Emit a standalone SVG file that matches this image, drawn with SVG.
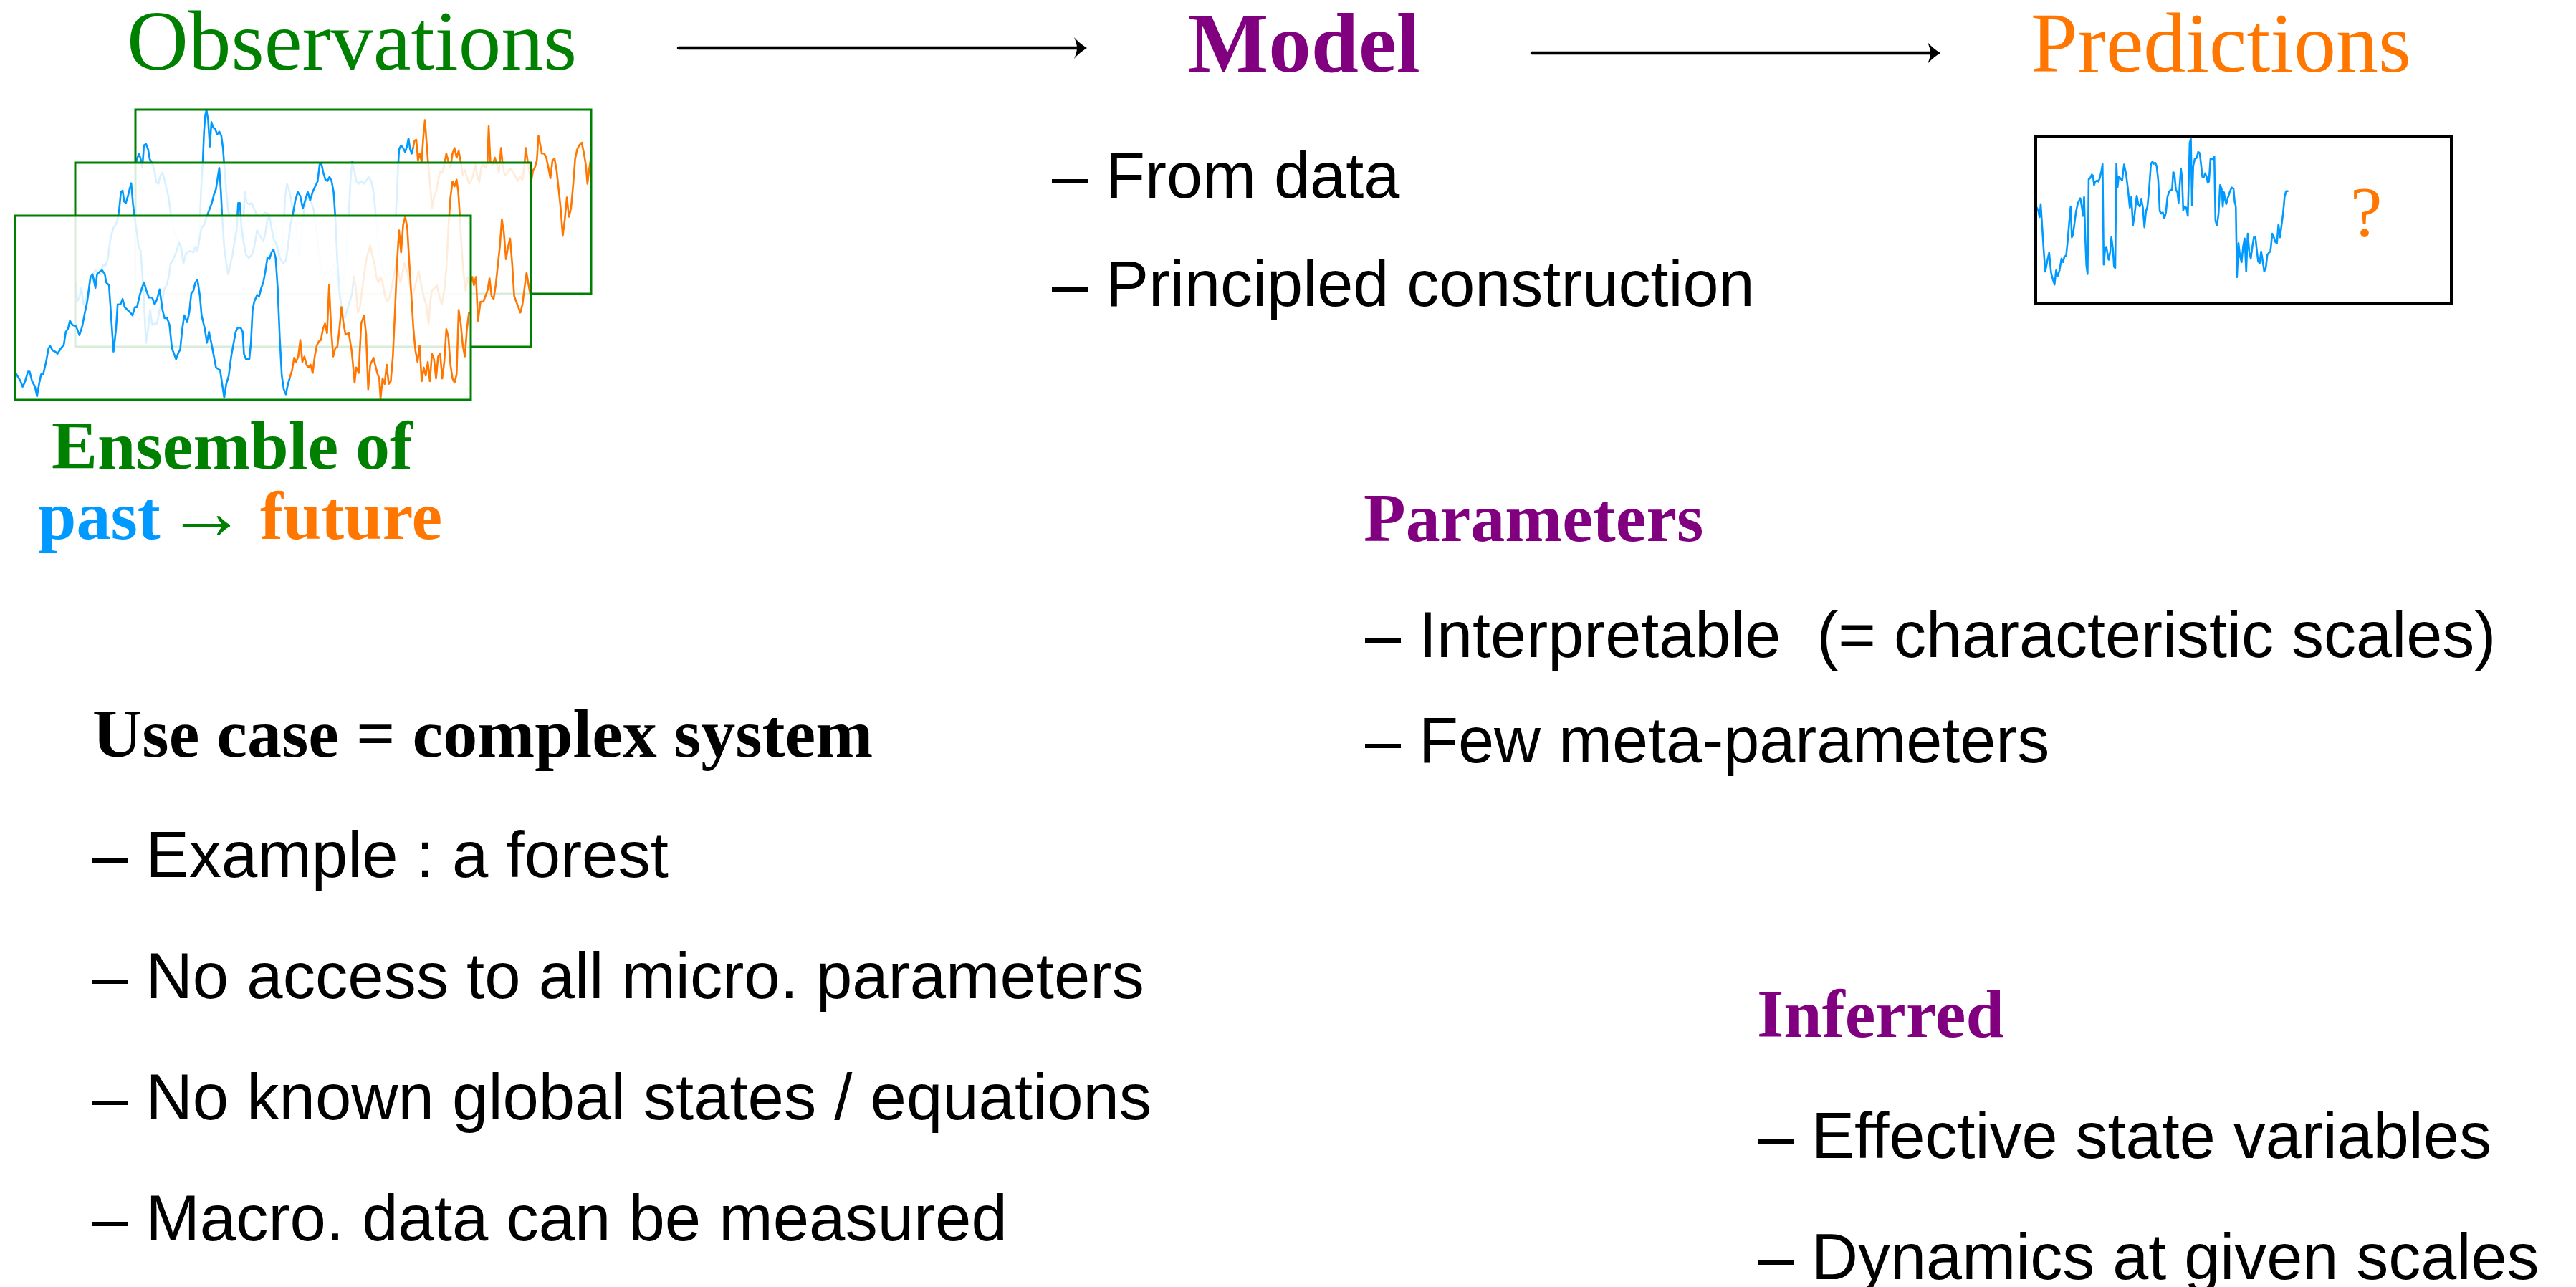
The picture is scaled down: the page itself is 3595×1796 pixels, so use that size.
<svg xmlns="http://www.w3.org/2000/svg" width="3595" height="1796" viewBox="0 0 3595 1796">
  <style>
    .serif { font-family: "Liberation Serif", "Times New Roman", serif; }
    .bold { font-weight: bold; }
    .sans { font-family: "Liberation Sans", Arial, Helvetica, sans-serif; fill: #000; }
    .green { fill: #008000; }
    .purple { fill: #800080; }
    .orangeT { fill: #ff7700; }
    .blueT { fill: #0099ff; }
    .ser { fill: none; stroke-width: 2.6; stroke-linejoin: round; stroke-linecap: round; }
    .b { stroke: #0099ff; }
    .o { stroke: #ff7700; }
    .frame { fill: none; stroke: #008000; stroke-width: 3; }
    .veil { fill: #ffffff; fill-opacity: 0.85; stroke: none; }
    .conn { fill: none; stroke: #000; stroke-width: 4.5; stroke-linecap: round; }
  </style>
  <defs>
    <marker id="head" markerUnits="userSpaceOnUse" viewBox="0 -16 38 32" refX="30" refY="0" markerWidth="38" markerHeight="32" orient="auto">
      <path d="M36,0 Q26,-6 18,-15 Q22,-6 22,0 Q22,6 18,15 Q26,6 36,0 Z" fill="#000"/>
    </marker>
  </defs>

  <rect width="3595" height="1796" fill="#ffffff"/>

  <!-- Observations: title, stacked ensemble of series, caption -->
  <g id="observations">
    <text class="serif green" x="177" y="97" font-size="119">Observations</text>

    <!-- back panel -->
    <g id="obs-panel-back">
      <g transform="scale(0.5741,0.3827)">
        <polyline class="ser b" vector-effect="non-scaling-stroke" points="331,590 334,575 338,560 342,580 346,610 350,530 355,525 360,545 364,580 370,595 375,620 380,665 385,670 390,640 395,630 400,655 405,690 410,720 415,780 420,820 425,850 432,880 438,890 444,960 450,920 456,905 462,900 468,905 474,900 480,890 484,870 487,760 490,660 493,590 496,480 499,420 502,400 506,440 510,535 514,445 518,465 523,470 528,490 533,480 538,495 542,540 546,620 550,700 555,770 560,800 565,830 570,850 575,870 580,760 585,870 590,870 595,700 600,740 606,745 612,740 620,770 628,795 636,790 644,775 652,780 660,800 668,820 676,900 682,930 688,880 693,720 698,670 704,700 710,750 716,800 722,860 727,930 732,880 738,780 744,720 750,725 756,735 762,760 768,830 774,900 780,980 786,1000 792,990 798,1000 805,980 812,960 818,1000 824,1060 830,1100 836,1020 842,920 848,780 852,660 856,590 861,620 866,660 872,670 878,660 884,670 890,660 896,645 902,660 907,690 912,760 917,850 922,920 928,970 934,1000 940,1010 946,995 952,990 958,920 962,800 966,660 970,545 975,530 980,540 985,555 990,530 993,505 997,545 1001,560 1004,540"/>
        <polyline class="ser o" vector-effect="non-scaling-stroke" points="1004,540 1008,512 1012,510 1016,585 1020,560 1025,590 1029,500 1033,438 1037,520 1041,600 1046,680 1050,760 1055,720 1060,700 1065,660 1070,625 1075,630 1080,600 1085,560 1090,590 1095,610 1100,560 1105,540 1110,575 1115,550 1120,590 1125,640 1130,620 1135,645 1140,670 1145,660 1150,640 1155,600 1160,640 1165,665 1170,610 1175,600 1180,612 1185,590 1188,460 1192,590 1198,600 1203,575 1208,600 1213,630 1218,540 1222,600 1227,640 1233,630 1240,615 1246,625 1252,640 1258,660 1264,645 1270,655 1275,600 1278,540 1283,590 1288,635 1292,655 1296,620 1300,612 1305,585 1309,495 1313,525 1317,560 1323,560 1328,575 1333,610 1338,650 1343,585 1348,578 1353,620 1358,690 1363,760 1368,860 1373,800 1378,720 1383,790 1388,760 1393,680 1398,580 1403,545 1408,530 1414,520 1419,555 1424,600 1428,670 1432,620 1436,580"/>
      </g>
      <rect class="frame" x="189" y="153" width="636" height="257"/>
    </g>

    <!-- middle panel -->
    <g id="obs-panel-middle">
      <rect class="veil" x="105" y="227" width="636" height="257"/>
      <g transform="scale(0.5741,0.3827)">
        <polyline class="ser b" vector-effect="non-scaling-stroke" points="184,1030 188,1100 193,1085 198,1050 203,1110 208,1095 214,1070 220,1020 226,1000 232,985 238,995 244,1000 250,965 256,970 262,945 267,885 272,850 276,830 281,820 286,800 290,760 294,700 298,695 302,735 306,740 311,715 315,690 319,668 323,740 327,790 332,840 337,900 342,915 346,1000 350,1100 355,1250 360,1200 365,1130 370,1185 376,1180 382,1180 388,1130 394,1100 400,1050 405,1040 410,1010 415,960 420,950 428,920 435,885 440,900 446,960 451,930 456,920 462,915 470,920 475,900 480,915 485,870 490,830 496,820 500,800 505,780 510,760 515,740 520,710 525,690 530,640 533,612 537,700 540,790 545,900 550,960 555,1000 560,965 565,930 570,880 575,840 579,740 583,740 587,830 592,880 598,930 605,940 612,930 618,900 625,840 632,860 640,880 645,850 650,800 655,790 660,830 665,870 672,890 680,940 688,960 695,950 700,900 706,820 712,780 718,730 724,700 730,715 736,760 742,730 748,700 754,730 760,700 766,680 772,662 777,600 781,595 786,630 791,655 796,660 801,645 806,660 811,700 815,790 820,950 826,1080 832,1140 838,1160 844,1130 850,1100 856,1070 860,1010"/>
        <polyline class="ser o" vector-effect="non-scaling-stroke" points="860,1010 865,1050 870,1140 875,1120 880,1060 885,1000 890,950 895,920 900,895 905,930 910,960 915,1010 920,1030 925,1010 930,1030 936,1080 942,1100 948,1080 953,1040 958,1000 963,960 968,990 973,1030 978,1000 983,960 990,990 996,1040 1002,1080 1008,1050 1013,1020 1018,990 1024,1040 1030,1080 1036,1110 1042,1180 1046,1100 1050,1060 1056,1050 1062,1040 1068,1080 1074,1110 1080,1060 1085,980 1090,830 1095,720 1100,662 1105,680 1110,655 1114,700 1118,790 1122,900 1127,1000 1132,1060 1137,1010 1142,1040 1148,1010 1152,1040 1157,1010 1162,1170 1168,1100 1175,1100 1180,1080 1185,1060 1190,1015 1195,1080 1200,1090 1205,1040 1210,970 1215,900 1220,800 1225,850 1230,945 1235,900 1240,870 1245,960 1250,1080 1255,1100 1260,1120 1265,1140 1270,1110 1275,1050 1280,995 1285,1040 1290,1080"/>
      </g>
      <rect class="frame" x="105" y="227" width="636" height="257"/>
    </g>

    <!-- front panel -->
    <g id="obs-panel-front">
      <rect class="veil" x="21" y="301" width="636" height="257"/>
      <g transform="scale(0.5741,0.3827)">
        <polyline class="ser b" vector-effect="non-scaling-stroke" points="38,1360 50,1390 55,1410 60,1395 68,1355 72,1355 78,1390 85,1410 90,1445 95,1400 100,1365 105,1365 112,1320 118,1270 122,1262 128,1278 135,1283 140,1290 148,1270 155,1258 160,1210 165,1200 170,1170 176,1185 185,1190 193,1222 200,1190 205,1150 212,1100 220,1010 225,1000 232,1050 236,1000 243,990 248,985 255,1000 258,1030 265,1040 270,1150 276,1282 282,1200 286,1110 293,1110 298,1090 303,1120 310,1130 317,1140 322,1150 328,1120 333,1120 340,1075 345,1050 350,1030 356,1060 362,1085 370,1085 376,1110 382,1090 388,1055 395,1130 400,1160 406,1160 412,1185 418,1270 428,1310 434,1285 438,1275 443,1200 448,1150 455,1175 460,1140 465,1070 470,1060 475,1030 480,1020 486,1080 490,1150 498,1200 503,1250 508,1210 515,1260 520,1300 525,1340 530,1345 535,1350 540,1400 545,1450 550,1400 556,1370 562,1300 568,1250 573,1210 578,1195 585,1195 590,1210 593,1290 598,1310 606,1310 610,1250 614,1130 618,1100 625,1075 630,1080 635,1050 640,1030 645,990 650,940 655,945 660,920 665,910 670,940 675,1050 680,1230 685,1370 690,1420 695,1438 700,1400 705,1375"/>
        <polyline class="ser o" vector-effect="non-scaling-stroke" points="705,1375 710,1350 715,1305 720,1320 725,1300 730,1240 735,1320 740,1300 745,1330 750,1340 755,1330 760,1360 765,1300 770,1260 775,1245 780,1240 785,1200 790,1180 795,1215 800,1040 805,1200 810,1300 815,1270 820,1265 825,1200 830,1120 835,1180 840,1220 848,1215 855,1280 862,1395 866,1340 872,1360 878,1180 885,1150 890,1220 895,1420 900,1330 908,1305 912,1330 917,1360 922,1380 925,1455 930,1380 935,1400 940,1330 945,1400 950,1390 955,1300 960,1140 965,960 970,840 975,920 980,820 985,790 990,830 995,960 1000,1080 1005,1200 1010,1280 1015,1320 1020,1260 1025,1390 1030,1340 1035,1370 1040,1320 1045,1390 1050,1290 1055,1310 1060,1380 1065,1300 1070,1290 1075,1380 1080,1320 1085,1200 1090,1230 1095,1330 1100,1380 1105,1395 1110,1365 1115,1130 1120,1180 1125,1260 1130,1300 1135,1200 1140,1140 1144,1140"/>
      </g>
      <rect class="frame" x="21" y="301" width="636" height="257"/>
    </g>

    <text class="serif bold green" x="72" y="654" font-size="96">Ensemble of</text>
    <text class="serif bold" font-size="96" y="752">
      <tspan class="blueT" x="53">past</tspan>
      <tspan class="green" x="232" font-size="112">→</tspan>
      <tspan class="orangeT" x="363">future</tspan>
    </text>
  </g>

  <!-- Model: title and construction bullets -->
  <g id="model">
    <text class="serif bold purple" x="1658" y="100" font-size="119">Model</text>
    <text class="sans" x="1468" y="276" font-size="90">– From data</text>
    <text class="sans" x="1468" y="427" font-size="90">– Principled construction</text>
  </g>

  <!-- Predictions: title, observed series with unknown continuation -->
  <g id="predictions">
    <text class="serif orangeT" x="2834" y="100" font-size="118">Predictions</text>
    <g transform="translate(2841,190) scale(0.536,0.3305) translate(-165,-573)">
      <polyline class="ser b" vector-effect="non-scaling-stroke" points="168,875 172,890 175,915 178,860 182,960 186,1060 190,1145 195,1100 200,1065 205,1150 210,1180 214,1200 218,1140 222,1165 227,1140 232,1090 236,1105 240,1080 244,1080 248,1020 252,940 256,870 259,1000 262,990 266,940 270,890 275,855 281,835 285,870 288,910 291,830 294,1000 297,1120 300,1155 303,755 307,750 311,735 314,740 317,780 320,765 325,760 328,765 332,750 336,720 339,690 342,1115 346,1045 349,1040 352,1070 355,1095 359,1060 362,1000 366,1050 369,1125 372,1130 375,690 378,790 381,745 385,750 390,760 395,693 400,730 405,795 410,875 414,830 418,950 422,910 428,825 432,860 436,870 440,840 444,875 448,958 452,890 456,870 460,800 465,690 469,680 472,690 476,685 480,700 484,760 488,890 492,900 496,895 500,920 504,895 508,830 512,810 516,800 520,800 523,725 526,730 530,800 534,810 537,855 540,780 543,710 546,750 549,885 553,870 557,875 561,910 563,790 566,600 569,585 572,865 575,700 579,670 584,665 588,640 592,645 596,700 599,745 603,745 606,730 610,745 613,770 616,765 620,670 625,670 630,660 633,930 637,950 641,900 645,780 649,795 652,870 655,810 658,840 661,860 665,835 670,810 675,790 680,795 683,850 686,870 689,1168 693,1025 697,1080 701,1105 705,1040 709,1005 713,1145 717,985 721,1060 725,1090 729,1040 733,1000 737,1000 741,1060 744,1100 748,1110 752,1060 756,1100 760,1145 764,1130 768,1075 772,1065 776,1060 781,985 785,1000 789,1020 793,1025 797,945 801,1000 805,950 809,900 813,830 817,805 821,805"/>
    </g>
    <rect x="2841" y="190" width="580" height="233" fill="none" stroke="#000" stroke-width="4"/>
    <text class="serif orangeT" x="3280" y="329" font-size="100">?</text>
  </g>

  <!-- Use case -->
  <g id="use-case">
    <text class="serif bold" x="129" y="1056" font-size="96">Use case = complex system</text>
    <text class="sans" x="128" y="1224" font-size="90.5">– Example : a forest</text>
    <text class="sans" x="128" y="1393" font-size="90.5">– No access to all micro. parameters</text>
    <text class="sans" x="128" y="1562" font-size="90.5">– No known global states / equations</text>
    <text class="sans" x="128" y="1731" font-size="90.5">– Macro. data can be measured</text>
  </g>

  <!-- Parameters -->
  <g id="parameters">
    <text class="serif bold purple" x="1903" y="755" font-size="96">Parameters</text>
    <text class="sans" x="1905" y="917" font-size="90">– Interpretable &#160;(= characteristic scales)</text>
    <text class="sans" x="1905" y="1064" font-size="90">– Few meta-parameters</text>
  </g>

  <!-- Inferred -->
  <g id="inferred">
    <text class="serif bold purple" x="2452" y="1447" font-size="96">Inferred</text>
    <text class="sans" x="2453" y="1616" font-size="90">– Effective state variables</text>
    <text class="sans" x="2453" y="1785" font-size="90">– Dynamics at given scales</text>
  </g>

  <!-- Connectors -->
  <g id="connectors">
    <line class="conn" x1="947" y1="67" x2="1511" y2="67" marker-end="url(#head)"/>
    <line class="conn" x1="2138" y1="74" x2="2702" y2="74" marker-end="url(#head)"/>
  </g>
</svg>
